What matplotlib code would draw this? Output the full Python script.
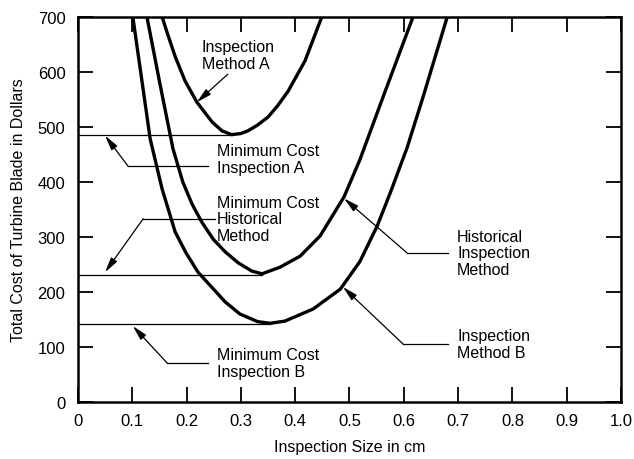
import matplotlib
matplotlib.use("Agg")
from matplotlib import pyplot as plt

plt.rcParams['font.family'] = ['Liberation Sans', 'DejaVu Sans']

# Curves (inspection size in cm, cost in dollars)
method_a_x = [0.155, 0.164, 0.179, 0.197, 0.219, 0.247, 0.265, 0.283,
              0.300, 0.313, 0.330, 0.350, 0.368, 0.387, 0.418, 0.449]
method_a_y = [700, 672, 628, 584, 545, 509, 493, 486,
              488, 493, 503, 518, 539, 565, 620, 700]

historical_x = [0.127, 0.151, 0.175, 0.193, 0.210, 0.228, 0.249, 0.271,
                0.295, 0.320, 0.339, 0.372, 0.409, 0.446, 0.490, 0.519,
                0.562, 0.617]
historical_y = [700, 578, 460, 400, 360, 327, 296, 273,
                253, 238, 233, 245, 265, 302, 373, 440,
                555, 700]

method_b_x = [0.101, 0.116, 0.133, 0.155, 0.179, 0.199, 0.221, 0.271,
              0.298, 0.331, 0.354, 0.381, 0.433, 0.483, 0.519, 0.551,
              0.575, 0.606, 0.635, 0.680]
method_b_y = [700, 596, 478, 387, 309, 271, 236, 182,
              160, 146, 143, 147, 169, 205, 255, 320,
              380, 462, 553, 700]

# Minimum-cost levels and where they are reached
min_cost = [485, 230, 141]
min_size = [0.283, 0.339, 0.354]

x_ticks = [0, 0.1, 0.2, 0.3, 0.4, 0.5, 0.6, 0.7, 0.8, 0.9, 1.0]
x_labels = ['0', '0.1', '0.2', '0.3', '0.4', '0.5', '0.6', '0.7', '0.8', '0.9', '1.0']
y_ticks = [0, 100, 200, 300, 400, 500, 600, 700]

fig = plt.figure(figsize=(6.34, 4.6), dpi=100)
ax = fig.add_axes([0.123, 0.124, 0.8565, 0.837])

curve_kw = dict(color='black', lw=2.4, solid_joinstyle='round', zorder=3)
ax.plot(method_a_x, method_a_y, **curve_kw)
ax.plot(historical_x, historical_y, **curve_kw)
ax.plot(method_b_x, method_b_y, **curve_kw)

# Horizontal minimum-cost lines
for level, size in zip(min_cost, min_size):
    ax.plot([0, size], [level, level], color='black', lw=0.9, zorder=2)

ax.set_xlim(0, 1.0)
ax.set_ylim(0, 700)
ax.set_xticks(x_ticks)
ax.set_xticklabels(x_labels)
ax.set_yticks(y_ticks)
ax.tick_params(direction='in', length=11, width=1.3, top=True, right=True,
               labelsize=12)
ax.tick_params(axis='x', pad=8)
ax.tick_params(axis='y', pad=9)
for s in ax.spines.values():
    s.set_linewidth(1.8)

ax.set_xlabel('Inspection Size in cm', fontsize=11.5, labelpad=8)
ax.set_ylabel('Total Cost of Turbine Blade in Dollars', fontsize=11.5, labelpad=8)

txt_kw = dict(fontsize=11.5, ha='left', va='center', linespacing=1.15)
arrow_kw = dict(arrowstyle='-|>,head_length=0.9,head_width=0.22',
                color='black', lw=0.9, shrinkA=0, shrinkB=0)
leader_kw = dict(color='black', lw=0.9)

# Inspection Method A
ax.text(0.228, 631, 'Inspection\nMethod A', **txt_kw)
ax.annotate('', xy=(0.219, 545), xytext=(0.276, 596), arrowprops=arrow_kw)

# Minimum Cost Inspection A
ax.text(0.256, 442, 'Minimum Cost\nInspection A', **txt_kw)
ax.plot([0.239, 0.092], [429, 429], **leader_kw)
ax.annotate('', xy=(0.050, 484), xytext=(0.092, 429), arrowprops=arrow_kw)

# Minimum Cost Historical Method
ax.text(0.256, 333, 'Minimum Cost\nHistorical\nMethod', **txt_kw)
ax.plot([0.252, 0.120], [333, 333], **leader_kw)
ax.annotate('', xy=(0.050, 236), xytext=(0.120, 333), arrowprops=arrow_kw)

# Minimum Cost Inspection B
ax.text(0.256, 71, 'Minimum Cost\nInspection B', **txt_kw)
ax.plot([0.239, 0.164], [71, 71], **leader_kw)
ax.annotate('', xy=(0.101, 138), xytext=(0.164, 71), arrowprops=arrow_kw)

# Historical Inspection Method
ax.text(0.698, 271, 'Historical\nInspection\nMethod', **txt_kw)
ax.plot([0.681, 0.606], [271, 271], **leader_kw)
ax.annotate('', xy=(0.490, 370), xytext=(0.606, 271), arrowprops=arrow_kw)

# Inspection Method B
ax.text(0.698, 105, 'Inspection\nMethod B', **txt_kw)
ax.plot([0.681, 0.599], [105, 105], **leader_kw)
ax.annotate('', xy=(0.488, 209), xytext=(0.599, 105), arrowprops=arrow_kw)

fig.savefig('out.png', dpi=100)
